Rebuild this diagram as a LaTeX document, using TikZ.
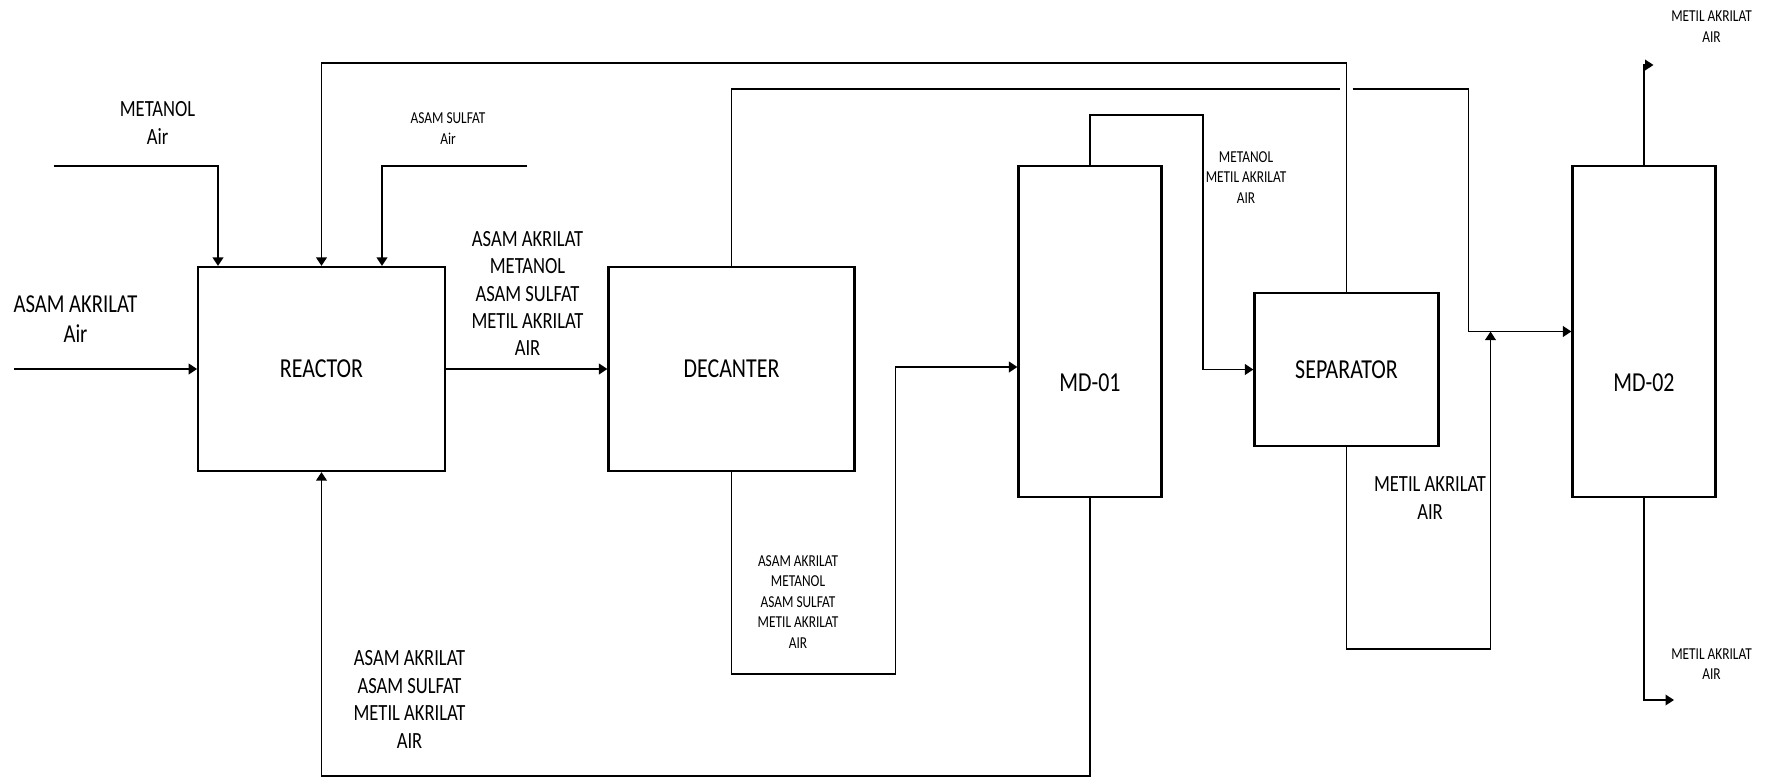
\documentclass[tikz,border=0pt]{standalone}
\usepackage{fontspec}
\setmainfont{Carlito}[FakeStretch=0.8]
\usetikzlibrary{
    arrows.meta,
    positioning,
    calc
}

\begin{document}
\begin{tikzpicture}[
    every node/.style={
        font=\fontsize{13.2pt}{15.6pt}\selectfont
    },
    unitname/.style={
        font=\fontsize{15.6pt}{18pt}\selectfont
    },
    unit/.style={
        rectangle,
        draw=black,
        line width=1.2pt,
        inner sep=0pt,
        minimum width=4.93cm,
        minimum height=4.08cm,
        unitname
    },
    column/.style={
        unit,
        minimum width=2.86cm,
        minimum height=6.62cm
    },
    stream/.style={
        align=center,
        inner sep=0pt
    },
    bigstream/.style={
        stream,
        font=\fontsize{14.7pt}{17pt}\selectfont
    },
    smallstream/.style={
        stream,
        font=\fontsize{9.5pt}{11.7pt}\selectfont
    },
    pipe/.style={
        line width=1.1pt,
        draw=black
    },
    arrow/.style={
        pipe,
        -{Triangle[length=1.7mm,width=2.1mm]}
    }
]

\useasboundingbox (0,0) rectangle (35.54,-15.56);

% ===========================================================
% UNITS
% ===========================================================

\node[unit] (reactor) at (6.43,-7.38) {REACTOR};

\node[unit, minimum width=4.92cm] (decanter) at (14.63,-7.38)
    {DECANTER};

\node[column,
    label={[unitname, yshift=-1.03cm]center:MD-01}] (md1)
    at (21.80,-6.63) {};

\node[unit, minimum width=3.68cm, minimum height=3.06cm] (separator)
    at (26.93,-7.39) {SEPARATOR};

\node[column,
    label={[unitname, yshift=-1.03cm]center:MD-02}] (md2)
    at (32.88,-6.63) {};

% ===========================================================
% STREAM END POINTS AND BENDS
% ===========================================================

\coordinate (feedin) at (0.28,-7.38);
\coordinate (metin) at (1.07,-3.32);
\coordinate (sulfin) at (10.54,-3.32);
\coordinate (rectop) at (26.93,-1.26);
\coordinate (gapL) at (26.80,-1.78);
\coordinate (gapR) at (27.05,-1.78);
\coordinate (md1top) at (24.06,-2.30);
\coordinate (decbot) at (17.91,-13.48);
\coordinate (recbot) at (21.80,-15.52);
\coordinate (sepbot) at (29.81,-12.98);
\coordinate (mix) at (29.81,-6.63);
\coordinate (topout) at (33.07,-1.30);
\coordinate (botout) at (33.48,-14.00);

% Fresh feeds into the reactor
\draw[arrow] (feedin) -- (reactor.west);
\draw[arrow] (metin) -| ($(reactor.north)+(-2.07,0)$);
\draw[arrow] (sulfin) -| ($(reactor.north)+(1.21,0)$);

% Reactor product to decanter
\draw[arrow] (reactor.east) -- (decanter.west);

% Decanter light phase to MD-02 (jumps the recycle line)
\draw[pipe] (decanter.north) |- (gapL);
\draw[arrow] (gapR) -| ($(md2.west)+(-2.06,0)$) -- (md2.west);

% Decanter heavy phase to MD-01
\draw[arrow] (decanter.south) |- (decbot)
    |- ($(md1.west)+(0,-0.71)$);

% MD-01 distillate to separator
\draw[arrow] (md1.north) |- (md1top) |- (separator.west);

% MD-01 bottoms recycled to reactor
\draw[arrow] (md1.south) -- (recbot) -| (reactor.south);

% Separator top recycled to reactor
\draw[arrow] (separator.north) -- (rectop) -| (reactor.north);

% Separator bottoms joined with the MD-02 feed
\draw[arrow] (separator.south) |- (sepbot) -- (mix);

% MD-02 products
\draw[arrow] (md2.north) |- (topout);
\draw[arrow] (md2.south) |- (botout);

% ===========================================================
% STREAM LABELS
% ===========================================================

\node[bigstream] (feedlbl) at (1.51,-6.38) {ASAM AKRILAT\\Air};
\node[stream] (metlbl) at (3.15,-2.46) {METANOL\\Air};
\node[smallstream] (sulflbl) at (8.96,-2.57) {ASAM SULFAT\\Air};

\node[stream] (reactlbl) at (10.55,-5.87)
    {ASAM AKRILAT\\METANOL\\ASAM SULFAT\\METIL AKRILAT\\AIR};

\node[stream] (reclbl) at (8.19,-13.99)
    {ASAM AKRILAT\\ASAM SULFAT\\METIL AKRILAT\\AIR};

\node[smallstream] (declbl) at (15.96,-12.04)
    {ASAM AKRILAT\\METANOL\\ASAM SULFAT\\METIL AKRILAT\\AIR};

\node[smallstream] (md1lbl) at (24.92,-3.55)
    {METANOL\\METIL AKRILAT\\AIR};

\node[stream] (seplbl) at (28.60,-9.96) {METIL AKRILAT\\AIR};

\node[smallstream] (toplbl) at (34.23,-0.53) {METIL AKRILAT\\AIR};
\node[smallstream] (botlbl) at (34.23,-13.28) {METIL AKRILAT\\AIR};

\end{tikzpicture}
\end{document}
